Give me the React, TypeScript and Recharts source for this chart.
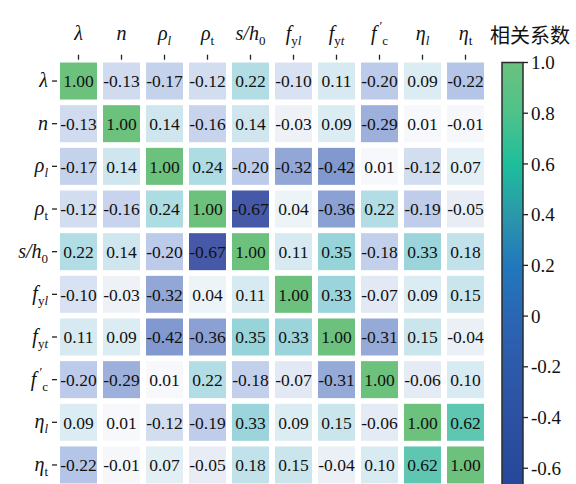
import React from "react";
import { ScatterChart, Scatter, XAxis, YAxis } from "recharts";

// variable names, in matrix order
const varKeys = ["lambda", "n", "rhoL", "rhoT", "sh0", "fyl", "fyt", "fc", "etaL", "etaT"];

// correlation rows
const rowLambda = [1.0, -0.13, -0.17, -0.12, 0.22, -0.1, 0.11, -0.2, 0.09, -0.22];
const rowN = [-0.13, 1.0, 0.14, -0.16, 0.14, -0.03, 0.09, -0.29, 0.01, -0.01];
const rowRhoL = [-0.17, 0.14, 1.0, 0.24, -0.2, -0.32, -0.42, 0.01, -0.12, 0.07];
const rowRhoT = [-0.12, -0.16, 0.24, 1.0, -0.67, 0.04, -0.36, 0.22, -0.19, -0.05];
const rowSh0 = [0.22, 0.14, -0.2, -0.67, 1.0, 0.11, 0.35, -0.18, 0.33, 0.18];
const rowFyl = [-0.1, -0.03, -0.32, 0.04, 0.11, 1.0, 0.33, -0.07, 0.09, 0.15];
const rowFyt = [0.11, 0.09, -0.42, -0.36, 0.35, 0.33, 1.0, -0.31, 0.15, -0.04];
const rowFc = [-0.2, -0.29, 0.01, 0.22, -0.18, -0.07, -0.31, 1.0, -0.06, 0.1];
const rowEtaL = [0.09, 0.01, -0.12, -0.19, 0.33, 0.09, 0.15, -0.06, 1.0, 0.62];
const rowEtaT = [-0.22, -0.01, 0.07, -0.05, 0.18, 0.15, -0.04, 0.1, 0.62, 1.0];

const matrix = [rowLambda, rowN, rowRhoL, rowRhoT, rowSh0, rowFyl, rowFyt, rowFc, rowEtaL, rowEtaT];

const colorbarTicks = [1.0, 0.8, 0.6, 0.4, 0.2, 0, -0.2, -0.4, -0.6];
const cbMin = -0.67;
const cbMax = 1.0;
const legendTitle = "相关系数";

type Seg = { t: string; i?: boolean; sub?: boolean; sup?: boolean };

const labelSegs: Record<string, Seg[]> = {
  lambda: [{ t: "λ", i: true }],
  n: [{ t: "n", i: true }],
  rhoL: [{ t: "ρ", i: true }, { t: "l", i: true, sub: true }],
  rhoT: [{ t: "ρ", i: true }, { t: "t", sub: true }],
  sh0: [{ t: "s/h", i: true }, { t: "0", sub: true }],
  fyl: [{ t: "f", i: true }, { t: "y", sub: true }, { t: "l", i: true, sub: true }],
  fyt: [{ t: "f", i: true }, { t: "y", sub: true }, { t: "t", i: true, sub: true }],
  fc: [{ t: "f", i: true }, { t: "′", sup: true }, { t: "c", sub: true }],
  etaL: [{ t: "η", i: true }, { t: "l", i: true, sub: true }],
  etaT: [{ t: "η", i: true }, { t: "t", sub: true }],
};

const cells = matrix.flatMap((row, r) => row.map((v, c) => ({ x: c, y: r, v })));

// colours
const cellStops: [number, string][] = [
  [-0.67, "#4659a8"],
  [-0.42, "#8199cf"],
  [-0.32, "#93a7d6"],
  [-0.2, "#bccbea"],
  [-0.12, "#d3ddf0"],
  [-0.03, "#eef2f7"],
  [0, "#f9fafc"],
  [0.09, "#dcecf3"],
  [0.14, "#cfe6ee"],
  [0.22, "#b2dde5"],
  [0.35, "#97d4d9"],
  [0.62, "#5fc6b2"],
  [1.0, "#6cc17c"],
];

const barStops: [number, string][] = [
  [1.0, "#6ac17e"],
  [0.8, "#4fc28a"],
  [0.6, "#1dbf9c"],
  [0.4, "#2b98aa"],
  [0.2, "#2178bd"],
  [0, "#2a66b4"],
  [-0.2, "#2e5aaa"],
  [-0.4, "#2c51a2"],
  [-0.67, "#27489a"],
];

const hex = (h: string) => [1, 3, 5].map((i) => parseInt(h.slice(i, i + 2), 16));

function cellColor(v: number) {
  if (v <= cellStops[0][0]) return cellStops[0][1];
  for (let k = 1; k < cellStops.length; k++) {
    const [v1, c1] = cellStops[k];
    const [v0, c0] = cellStops[k - 1];
    if (v <= v1) {
      const t = (v - v0) / (v1 - v0);
      const a = hex(c0);
      const b = hex(c1);
      const m = a.map((x, j) => Math.round(x + (b[j] - x) * t));
      return `rgb(${m[0]},${m[1]},${m[2]})`;
    }
  }
  return cellStops[cellStops.length - 1][1];
}

const FONT = "Liberation Serif, Times New Roman, DejaVu Serif, serif";
const CELL = 37;

function Label({ segs, x, y, anchor }: { segs: Seg[]; x: number; y: number; anchor: "middle" | "end" }) {
  let shift = 0;
  const parts = segs.map((s, k) => {
    const target = s.sub ? 5 : s.sup ? -10 : 0;
    const dy = target - shift;
    shift = target;
    const prevSup = k > 0 && segs[k - 1].sup && s.sub;
    return (
      <tspan
        key={k}
        dy={dy}
        dx={prevSup ? 0 : s.sup ? 3 : 0}
        style={{ fontStyle: s.i ? "italic" : "normal", fontSize: s.sub || s.sup ? 13 : 20 }}
      >
        {s.t}
      </tspan>
    );
  });
  return (
    <text x={x} y={y} textAnchor={anchor} style={{ fontFamily: FONT }} fill="#111">
      {parts}
    </text>
  );
}

const TopTick = (props: any) => {
  const { x, y, payload } = props;
  const key = varKeys[payload.value];
  return <Label segs={labelSegs[key]} x={x} y={y - 13} anchor="middle" />;
};

const LeftTick = (props: any) => {
  const { x, y, payload } = props;
  const key = varKeys[payload.value];
  return <Label segs={labelSegs[key]} x={x - 2} y={y + 6} anchor="end" />;
};

const CellShape = (props: any) => {
  const { cx, cy, payload } = props;
  return (
    <g>
      <rect x={cx - CELL / 2} y={cy - CELL / 2} width={CELL} height={CELL} fill={cellColor(payload.v)} />
      <text
        x={cx}
        y={cy}
        dy="0.36em"
        textAnchor="middle"
        style={{ fontFamily: FONT, fontSize: 17.5 }}
        fill="#111"
      >
        {payload.v.toFixed(2)}
      </text>
    </g>
  );
};

function ColorBar() {
  const x0 = 502;
  const w = 21;
  const top = 62.5;
  const bottom = 486;
  const yOf = (v: number) => top + ((cbMax - v) / (cbMax - cbMin)) * (bottom - top);
  return (
    <svg width={576} height={490} style={{ position: "absolute", left: 0, top: 0 }}>
      <defs>
        <linearGradient id="cbGrad" x1="0" y1="0" x2="0" y2="1">
          {barStops.map(([v, c], k) => (
            <stop key={k} offset={(cbMax - v) / (cbMax - cbMin)} stopColor={c} />
          ))}
        </linearGradient>
      </defs>
      <text x={490} y={43} style={{ fontFamily: "Noto Sans CJK SC, sans-serif", fontSize: 20 }} fill="#111">
        {legendTitle}
      </text>
      <rect x={x0} y={top} width={w} height={bottom - top} fill="url(#cbGrad)" stroke="#2b2b2b" strokeWidth={1.5} />
      {colorbarTicks.map((v) => (
        <g key={v}>
          <line x1={x0 + w} x2={x0 + w + 5} y1={yOf(v)} y2={yOf(v)} stroke="#222" strokeWidth={1.3} />
          <text x={x0 + w + 8} y={yOf(v)} dy="0.35em" style={{ fontFamily: FONT, fontSize: 19 }} fill="#111">
            {v === 0 ? "0" : v.toFixed(1)}
          </text>
        </g>
      ))}
    </svg>
  );
}

const idx = varKeys.map((_, k) => k);

export default function App() {
  return (
    <div style={{ position: "relative", width: 576, height: 484, overflow: "hidden", background: "#fff" }}>
      <style>{`body{margin:0}`}</style>
      <ScatterChart width={576} height={490} margin={{ top: 0, right: 89, bottom: 3.7, left: 0 }}>
        <XAxis
          type="number"
          dataKey="x"
          orientation="top"
          domain={[-0.5, 9.5]}
          ticks={idx}
          interval={0}
          height={59.7}
          tickSize={5}
          axisLine={false}
          tickLine={{ stroke: "#222", strokeWidth: 1.3 }}
          tick={<TopTick />}
        />
        <YAxis
          type="number"
          dataKey="y"
          reversed
          domain={[-0.5, 9.5]}
          ticks={idx}
          interval={0}
          width={57}
          tickSize={5}
          axisLine={false}
          tickLine={{ stroke: "#222", strokeWidth: 1.3 }}
          tick={<LeftTick />}
        />
        <Scatter data={cells} shape={<CellShape />} isAnimationActive={false} />
      </ScatterChart>
      <ColorBar />
    </div>
  );
}
